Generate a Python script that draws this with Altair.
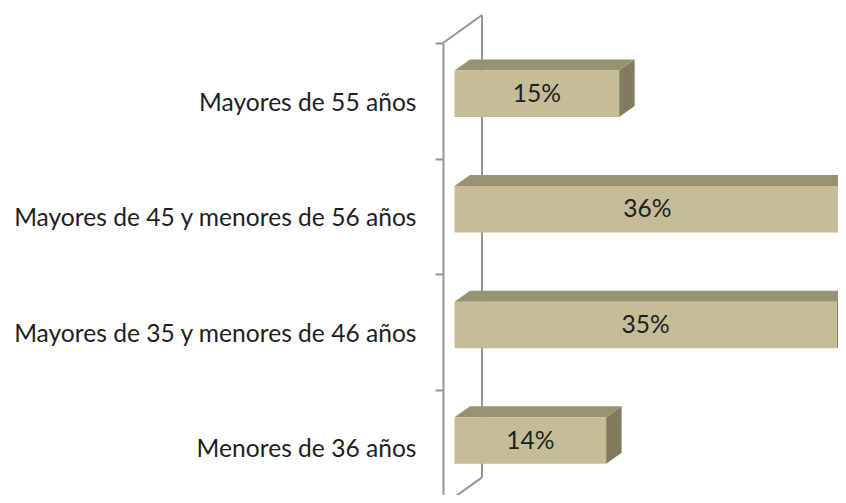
import json
import altair as alt
import pandas as pd

# ---- data ----
categories = [
    "Mayores de 55 años",
    "Mayores de 45 y menores de 56 años",
    "Mayores de 35 y menores de 46 años",
    "Menores de 36 años",
]
values = [15.2, 35.6, 35.3, 14.0]
labels = ["15%", "36%", "35%", "14%"]

# ---- styling / geometry constants (pixels) ----
KX = 10.83          # px per percent
KY = 115.6          # px per category band
X0_PX = 11.5        # where 0% sits, from the front axis
BAR_TOP_PX = 27.5   # front face top, from band top
BAR_H_PX = 46.5     # front face height
DX_PX = 15.5        # bar depth (right)
DY_PX = 11.0        # bar depth (up)
WALL_DX, WALL_DY = 39, 28

FRONT = "#C4BD97"
TOP = "#97926F"
SIDE = "#7F7B5D"
LINE = "#959595"
FONT = "Lato"
TEXT = "#1E1E1E"

dx = DX_PX / KX
dy = DY_PX / KY

front_rows, top_rows, side_rows = [], [], []
for i, (c, v, lab) in enumerate(zip(categories, values, labels)):
    yt = i + BAR_TOP_PX / KY
    yb = i + (BAR_TOP_PX + BAR_H_PX) / KY
    front_rows.append(dict(cat=c, x=0, x2=v, y=yt, y2=yb, xm=v / 2,
                           ym=(yt + yb) / 2, label=lab))
    for px, a, b in [(0, yt, yt), (dx, yt - dy, yt), (v, yt - dy, yt),
                     (v + dx, yt - dy, yt - dy)]:
        top_rows.append(dict(cat=c, x=px, y=a, y2=b))
    for px, a, b in [(v, yt, yb), (v + dx, yt - dy, yb - dy)]:
        side_rows.append(dict(cat=c, x=px, y=a, y2=b))

front_df = pd.DataFrame(front_rows)
top_df = pd.DataFrame(top_rows)
side_df = pd.DataFrame(side_rows)

X_SCALE = alt.Scale(domain=[0, 36], range=[X0_PX, X0_PX + 36 * KX],
                    nice=False, zero=False)
Y_SCALE = alt.Scale(domain=[0, 4], range=[0, 4 * KY], nice=False, zero=False)

label_expr = ("(" + json.dumps(categories, ensure_ascii=False)
              + ")[datum.value] || ''")
Y_AXIS = alt.Axis(
    values=[0, 1, 2, 3, 4], title=None, grid=False,
    domainColor=LINE, domainWidth=2, tickColor=LINE, tickWidth=2, tickSize=8,
    labelExpr=label_expr, labelFont=FONT, labelFontSize=24.6, labelColor=TEXT,
    labelPadding=19, labelOffset=60, labelOverlap=False, labelFlush=False,
    labelBaseline="middle", labelLimit=0,
)

xq = lambda f: alt.X(f, type="quantitative", scale=X_SCALE, axis=None)
yq = lambda f: alt.Y(f, type="quantitative", scale=Y_SCALE, axis=Y_AXIS)

# 3D wall behind the bars (decoration)
wall = pd.DataFrame({
    "x": [WALL_DX, 0, 0],
    "x2": [WALL_DX, WALL_DX, WALL_DX],
    "y": [-WALL_DY, 0, 4 * KY],
    "y2": [4 * KY - WALL_DY, -WALL_DY, 4 * KY - WALL_DY],
})
wall_layer = alt.Chart(wall).mark_rule(color=LINE, strokeWidth=2).encode(
    x=alt.X("x:Q", scale=None, axis=None),
    x2="x2:Q",
    y=alt.Y("y:Q", scale=None, axis=None),
    y2="y2:Q",
)

side_layer = alt.Chart(side_df).mark_area(color=SIDE, orient="vertical").encode(
    x=xq("x"), y=yq("y"), y2="y2", detail="cat:N"
)
top_layer = alt.Chart(top_df).mark_area(color=TOP, orient="vertical").encode(
    x=xq("x"), y=yq("y"), y2="y2", detail="cat:N"
)
front_layer = alt.Chart(front_df).mark_rect(color=FRONT).encode(
    x=xq("x"), x2="x2", y=yq("y"), y2="y2"
)
text_layer = alt.Chart(front_df).mark_text(
    font=FONT, fontSize=24.6, color=TEXT, baseline="middle", align="center", dy=1
).encode(x=xq("xm"), y=yq("ym"), text="label:N")

chart = (
    alt.layer(wall_layer, side_layer, top_layer, front_layer, text_layer)
    .properties(
        width=395, height=450,
        autosize=alt.AutoSizeParams(type="none"),
        padding={"left": 435, "top": 35, "right": 0, "bottom": 2},
        background="white",
    )
    .configure_view(strokeWidth=0, stroke="transparent")
)

chart.save("out.html", embed_options={"renderer": "svg", "actions": False})
